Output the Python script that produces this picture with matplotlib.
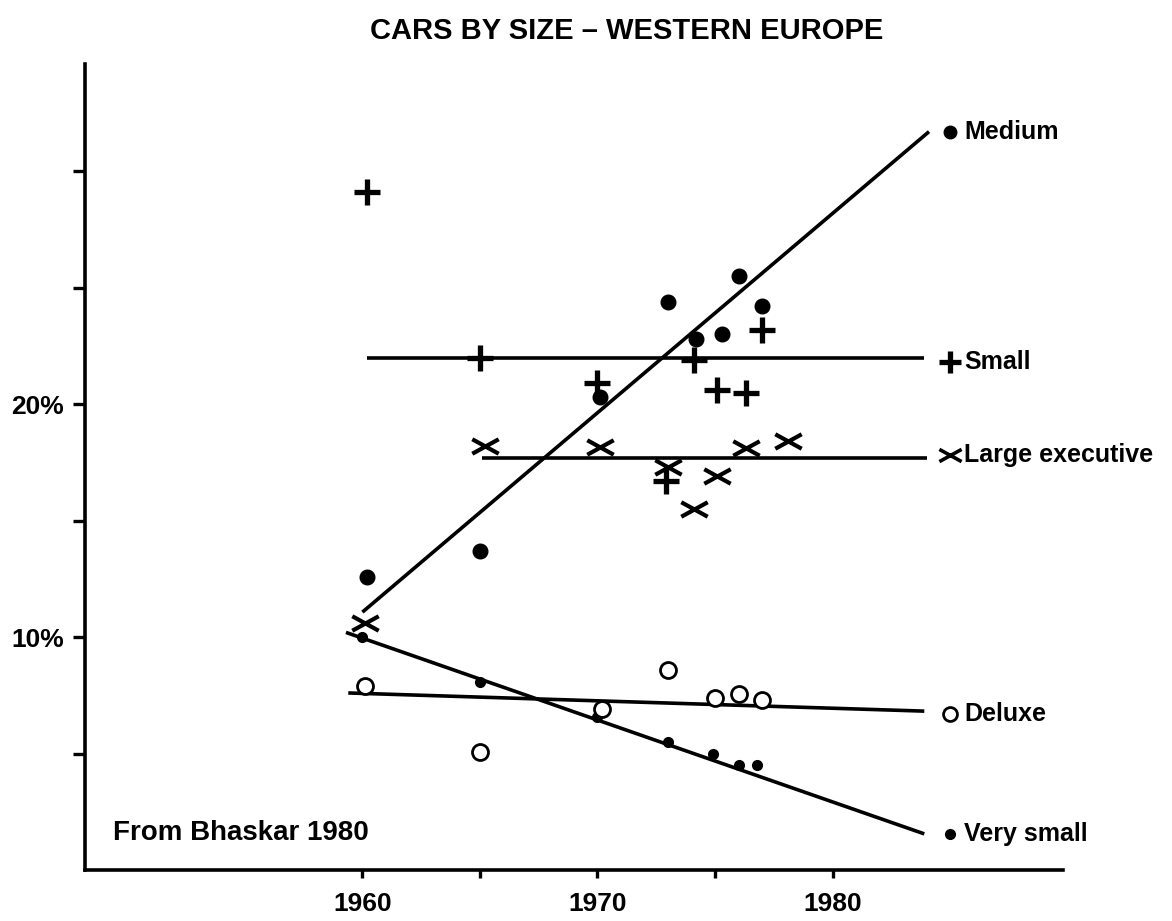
import numpy as np
import matplotlib.pyplot as plt
from matplotlib.path import Path

# values (year, share %)
medium_years = [1960.2, 1965.0, 1970.1, 1973.0, 1974.2, 1975.3, 1976.0, 1977.0]
medium_pct = [12.6, 13.7, 20.3, 24.4, 22.8, 23.0, 25.5, 24.2]

small_years = [1960.2, 1965.0, 1970.0, 1972.9, 1974.1, 1975.1, 1976.3, 1977.0]
small_pct = [29.1, 22.0, 20.9, 16.7, 21.9, 20.6, 20.5, 23.2]

large_years = [1960.1, 1965.2, 1970.1, 1973.0, 1974.1, 1975.1, 1976.3, 1978.1]
large_pct = [10.6, 18.2, 18.15, 17.3, 15.5, 16.9, 18.1, 18.4]

deluxe_years = [1960.1, 1965.0, 1970.2, 1973.0, 1975.0, 1976.0, 1977.0]
deluxe_pct = [7.9, 5.06, 6.9, 8.6, 7.4, 7.55, 7.3]

vsmall_years = [1960.0, 1965.0, 1970.0, 1973.0, 1974.9, 1976.0, 1976.8]
vsmall_pct = [10.0, 8.07, 6.57, 5.5, 4.98, 4.5, 4.5]

# fitted trend lines: (x0, y0, x1, y1)
trend_medium = (1960.0, 11.07, 1984.1, 31.7)
trend_small = (1960.2, 22.0, 1983.9, 22.0)
trend_large = (1965.1, 17.7, 1984.0, 17.7)
trend_deluxe = (1959.4, 7.6, 1983.9, 6.82)
trend_vsmall = (1959.3, 10.2, 1983.9, 1.55)

label_names = ['Medium', 'Small', 'Large executive', 'Deluxe', 'Very small']
label_year = 1985.0
label_pct = [31.7, 21.8, 17.8, 6.7, 1.55]

x_ticks = [1960, 1965, 1970, 1975, 1980]
x_ticklabels = ['1960', '', '1970', '', '1980']
y_ticks = [5, 10, 15, 20, 25, 30]
y_ticklabels = ['', '10%', '', '20%', '', '']

font = 'Liberation Sans'

# flattened "x" marker
flat_x = Path([(-1, -0.55), (1, 0.55), (-1, 0.55), (1, -0.55)],
              [Path.MOVETO, Path.LINETO, Path.MOVETO, Path.LINETO])

fig = plt.figure(figsize=(11.72, 9.21), dpi=100)
ax = fig.add_axes([0.0725, 0.0554, 0.8345, 0.875])

lw = 2.6
for x0, y0, x1, y1 in [trend_medium, trend_small, trend_large, trend_deluxe, trend_vsmall]:
    ax.plot([x0, x1], [y0, y1], color='black', lw=lw, solid_capstyle='butt')

ax.plot(medium_years, medium_pct, 'o', color='black', ms=10.5, ls='none')
ax.plot(vsmall_years, vsmall_pct, 'o', color='black', ms=7, ls='none')
ax.plot(deluxe_years, deluxe_pct, 'o', mfc='white', mec='black', mew=2, ms=11.5, ls='none')
ax.plot(small_years, small_pct, '+', color='black', mew=3.8, ms=19, ls='none')
ax.plot(large_years, large_pct, marker=flat_x, color='black', mew=3, ms=19, ls='none')

# end labels with their marker
label_styles = [
    dict(marker='o', color='black', ms=9),
    dict(marker='+', color='black', mew=3.8, ms=16),
    dict(marker=flat_x, color='black', mew=2.6, ms=16),
    dict(marker='o', mfc='white', mec='black', mew=2, ms=10),
    dict(marker='o', color='black', ms=7),
]
for name, y, st in zip(label_names, label_pct, label_styles):
    ax.plot([label_year], [y], ls='none', clip_on=False, **st)
    ax.annotate(name, (label_year, y), xytext=(10, 0), textcoords='offset points',
                ha='left', va='center', fontsize=18, fontweight='bold',
                family=font, annotation_clip=False)

ax.text(1949.4, 1.6, 'From Bhaskar 1980', ha='left', va='center',
        fontsize=20, fontweight='bold', family=font)

fig.text(0.535, 0.966, 'CARS BY SIZE \u2013 WESTERN EUROPE', ha='center', va='center',
         fontsize=21, fontweight='bold', family=font)

ax.set_xlim(1948.2, 1989.8)
ax.set_ylim(0, 34.6)
ax.spines['top'].set_visible(False)
ax.spines['right'].set_visible(False)
for s in ['left', 'bottom']:
    ax.spines[s].set_linewidth(2.6)

ax.set_xticks(x_ticks)
ax.set_xticklabels(x_ticklabels)
ax.set_yticks(y_ticks)
ax.set_yticklabels(y_ticklabels)
ax.tick_params(axis='x', direction='out', length=6, width=2.4, pad=10)
ax.tick_params(axis='y', direction='out', length=9, width=2.4, pad=6)
for t in ax.get_xticklabels() + ax.get_yticklabels():
    t.set_fontsize(19)
    t.set_fontweight('bold')
    t.set_family(font)

fig.savefig('out.png', dpi=100)
